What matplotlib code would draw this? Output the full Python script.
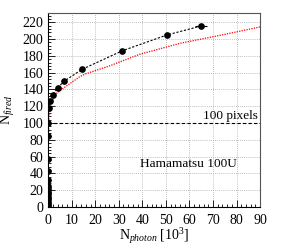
import numpy as np
import matplotlib.pyplot as plt
from matplotlib.ticker import MultipleLocator

plt.rcParams['font.family'] = ['Liberation Serif', 'DejaVu Serif']
plt.rcParams['mathtext.fontset'] = 'custom'
plt.rcParams['mathtext.rm'] = 'Liberation Serif'
plt.rcParams['mathtext.it'] = 'Liberation Serif:italic'

## 측정 데이터 (N_photon [10^3], N_fired)
meas_x = [0, 0, 0, 0, 0, 0, 0, 0, 0, 0, 0, 0, 0, 0,
          0.3, 0.85, 2.0, 4.0, 6.9, 14.4, 31.4, 50.5, 64.8]
meas_y = [1, 3, 6, 9, 12, 15, 18, 21, 25, 32, 43, 57, 84, 100,
          118, 126, 134, 142, 150, 164, 186, 205, 215.5]
meas_xerr = [0] * 22 + [2.6]

## 모델 곡선 (빨간 점선)
model_x = [0, 0.1, 0.4, 1.3, 3.4, 6.2, 9.8, 13.3, 16, 26, 39, 56, 73, 90]
model_y = [0, 80, 105, 124.5, 135, 141, 148, 155, 158.7, 168, 182, 195, 204.5, 214.5]

pix_limit = 100

fig = plt.figure(figsize=(2.83, 2.47), dpi=100)
ax = fig.add_axes([0.17, 0.162, 0.749, 0.785])

ax.grid(True, color='#aaaaaa', linestyle=(0, (1, 1.5)), linewidth=0.6)
ax.set_axisbelow(True)

ax.plot(model_x, model_y, color='red', linestyle=(0, (1, 1)), linewidth=0.9)
ax.plot(meas_x, meas_y, color='black', linestyle=(0, (2, 1.5)), linewidth=0.8)
ax.errorbar(meas_x, meas_y, xerr=meas_xerr, fmt='o', color='black',
            markersize=3.8, elinewidth=0.8, capsize=0)
ax.axhline(pix_limit, color='black', linestyle=(0, (3, 2)), linewidth=0.8)

ax.text(89, 101.5, '100 pixels', ha='right', va='bottom', fontsize=9.5)
ax.text(39, 51, 'Hamamatsu 100U', ha='left', va='center', fontsize=9.5)

ax.set_xlim(0, 90)
ax.set_ylim(0, 231)
ax.xaxis.set_major_locator(MultipleLocator(10))
ax.xaxis.set_minor_locator(MultipleLocator(2))
ax.yaxis.set_major_locator(MultipleLocator(20))
ax.yaxis.set_minor_locator(MultipleLocator(4))
ax.tick_params(which='both', direction='in', labelsize=10)
ax.tick_params(axis='x', which='major', pad=5)
ax.tick_params(axis='y', which='major', pad=3.5)
ax.tick_params(which='major', length=5, width=0.6)
ax.tick_params(which='minor', length=2.5, width=0.6)
for s in ax.spines.values():
    s.set_linewidth(0.8)
ax.spines['top'].set_color('#555555')
ax.spines['right'].set_color('#555555')

ax.set_xlabel(r'N$_{\mathit{photon}}$ [10$^{3}$]', fontsize=10)
ax.xaxis.set_label_coords(0.5, -0.1)
ax.set_ylabel(r'N$_{\mathit{fired}}$', fontsize=10, labelpad=4)

fig.savefig('out.png', dpi=100)
